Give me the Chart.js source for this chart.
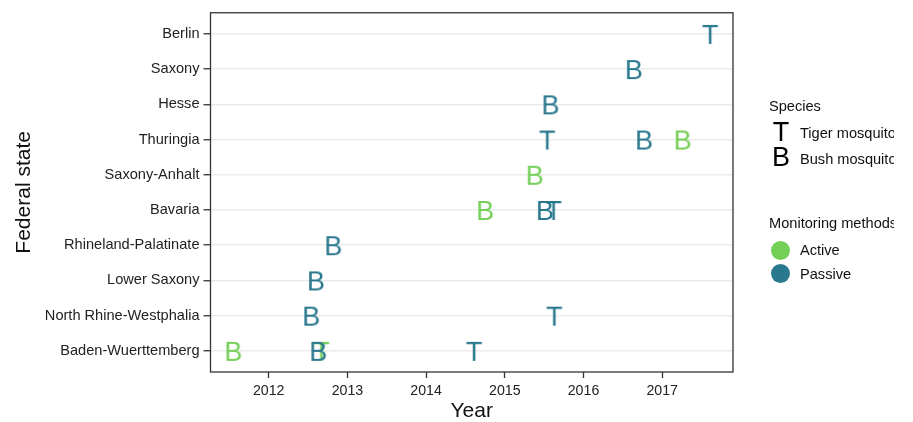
<!DOCTYPE html>
<html>
<head>
<meta charset="utf-8">
<script src="https://cdn.jsdelivr.net/npm/chart.js@4.4.1/dist/chart.umd.min.js"></script>
<style>
body { margin:0; background:#fff; overflow:hidden; font-family:"Liberation Sans", Arial, sans-serif; }
#wrap { position:relative; width:913px; height:422px; overflow:hidden; }
#legendBox { position:absolute; left:0; top:0; width:894px; height:422px; overflow:hidden; pointer-events:none; }
.lg { position:absolute; white-space:nowrap; color:#111; font-size:14.6px; line-height:17px; }
.key { position:absolute; font-size:27px; line-height:27px; color:#000; width:20px; text-align:center; }
.dot { position:absolute; width:19px; height:19px; border-radius:50%; }
</style>
</head>
<body>
<div id="wrap">
<canvas id="mosquitoChart" width="913" height="422"></canvas>
<div id="legendBox">
<div class="lg" style="left:769px;top:98px">Species</div>
<div class="key" style="left:771px;top:119px">T</div>
<div class="lg" style="left:800px;top:125px">Tiger mosquito</div>
<div class="key" style="left:771px;top:144px">B</div>
<div class="lg" style="left:800px;top:151px">Bush mosquito</div>
<div class="lg" style="left:769px;top:215px">Monitoring methods</div>
<div class="dot" id="dotActive" style="left:771px;top:241px"></div>
<div class="lg" style="left:800px;top:242px">Active</div>
<div class="dot" id="dotPassive" style="left:771px;top:264px"></div>
<div class="lg" style="left:800px;top:266px">Passive</div>
</div>
</div>
<script>
// states from bottom to top of the y axis
var states = ['Baden-Wuerttemberg', 'North Rhine-Westphalia', 'Lower Saxony', 'Rhineland-Palatinate',
  'Bavaria', 'Saxony-Anhalt', 'Thuringia', 'Hesse', 'Saxony', 'Berlin'];
var yearTicks = [2012, 2013, 2014, 2015, 2016, 2017];

var bushPassiveStates = ['Baden-Wuerttemberg', 'North Rhine-Westphalia', 'Lower Saxony', 'Rhineland-Palatinate', 'Bavaria', 'Thuringia', 'Hesse', 'Saxony'];
var bushPassiveYears = [2012.63, 2012.54, 2012.60, 2012.82, 2015.51, 2016.77, 2015.58, 2016.64];

var bushActiveStates = ['Baden-Wuerttemberg', 'Bavaria', 'Saxony-Anhalt', 'Thuringia'];
var bushActiveYears = [2011.55, 2014.75, 2015.38, 2017.26];

var tigerPassiveStates = ['Baden-Wuerttemberg', 'North Rhine-Westphalia', 'Bavaria', 'Thuringia', 'Berlin'];
var tigerPassiveYears = [2014.61, 2015.63, 2015.62, 2015.54, 2017.61];

var tigerActiveStates = ['Baden-Wuerttemberg'];
var tigerActiveYears = [2012.67];

var activeColor = '#74cf57';
var passiveColor = '#2a788e';
document.getElementById('dotActive').style.background = activeColor;
document.getElementById('dotPassive').style.background = passiveColor;

function toPoints(sts, yrs) {
  return yrs.map(function(y, i) { return {x: y, y: states.indexOf(sts[i]) + 1}; });
}

// letter used as point marker
function letterMark(letter, color) {
  var c = document.createElement('canvas');
  c.width = 40; c.height = 40;
  var g = c.getContext('2d');
  g.font = '27px "Liberation Sans", Arial, sans-serif';
  g.fillStyle = color;
  g.textAlign = 'center';
  g.textBaseline = 'alphabetic';
  g.fillText(letter, 20, 20 + 0.716 * 27 / 2);
  return c;
}

function ds(label, sts, yrs, letter, color) {
  return {
    label: label,
    data: toPoints(sts, yrs),
    pointStyle: letterMark(letter, color),
    pointRadius: 10,
    backgroundColor: color,
    borderColor: color
  };
}

var framePlugin = {
  id: 'frame',
  afterDraw: function(chart) {
    var a = chart.chartArea, g = chart.ctx;
    g.save();
    g.strokeStyle = '#333';
    g.lineWidth = 1.3;
    g.strokeRect(a.left, a.top, a.right - a.left, a.bottom - a.top);
    g.restore();
  }
};

var ctx = document.getElementById('mosquitoChart').getContext('2d');
var chart = new Chart(ctx, {
  type: 'scatter',
  data: {
    datasets: [
      ds('Bush mosquito / Passive', bushPassiveStates, bushPassiveYears, 'B', passiveColor),
      ds('Bush mosquito / Active', bushActiveStates, bushActiveYears, 'B', activeColor),
      ds('Tiger mosquito / Passive', tigerPassiveStates, tigerPassiveYears, 'T', passiveColor),
      ds('Tiger mosquito / Active', tigerActiveStates, tigerActiveYears, 'T', activeColor)
    ]
  },
  options: {
    responsive: false,
    animation: false,
    events: [],
    layout: { padding: { top: 12.5, right: 180, left: 0, bottom: 0 } },
    plugins: { legend: { display: false }, tooltip: { enabled: false } },
    scales: {
      x: {
        type: 'linear',
        min: 2011.26,
        max: 2017.9,
        afterBuildTicks: function(s) { s.ticks = yearTicks.map(function(v) { return {value: v}; }); },
        afterFit: function(s) { s.height = 50; },
        ticks: {
          callback: function(v) { return String(v); },
          color: '#222',
          font: { family: '"Liberation Sans", Arial', size: 14.2 },
          padding: 5,
          maxRotation: 0
        },
        grid: { drawOnChartArea: false, drawTicks: true, tickLength: 6, tickColor: '#333', tickWidth: 1.3 },
        border: { display: false },
        title: {
          display: true,
          text: 'Year',
          color: '#111',
          font: { family: '"Liberation Sans", Arial', size: 21, lineHeight: 1 },
          padding: 0
        }
      },
      y: {
        type: 'linear',
        min: 0.4,
        max: 10.6,
        afterBuildTicks: function(s) { s.ticks = states.map(function(n, i) { return {value: i + 1}; }); },
        afterFit: function(s) { s.width = 210.5; },
        ticks: {
          callback: function(v) { return states[v - 1]; },
          color: '#222',
          font: { family: '"Liberation Sans", Arial', size: 14.6 },
          padding: 4
        },
        grid: { color: '#ebebeb', lineWidth: 1.5, tickLength: 7, tickColor: '#333', tickWidth: 1.3 },
        border: { display: false },
        title: {
          display: true,
          text: 'Federal state',
          color: '#111',
          font: { family: '"Liberation Sans", Arial', size: 21, lineHeight: 1 },
          padding: { top: 14, bottom: 0 }
        }
      }
    }
  },
  plugins: [framePlugin]
});
</script>
</body>
</html>
